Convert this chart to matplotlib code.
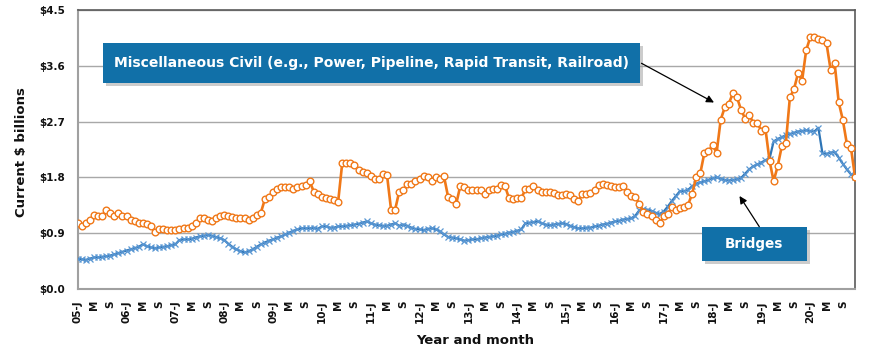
import matplotlib
matplotlib.use("Agg")
import matplotlib.pyplot as plt
from matplotlib.patches import Rectangle

# ---------------- data ----------------
years = list(range(2005, 2021))
tick_labels = []
for y in years:
    tick_labels += [f"{y % 100:02d}-J", "M", "S"]

misc_civil = [
    1.07, 1.02, 1.06, 1.11, 1.19, 1.17, 1.18, 1.27, 1.22, 1.18, 1.22, 1.17,
    1.18, 1.11, 1.09, 1.06, 1.06, 1.05, 1.01, 0.92, 0.97, 0.97, 0.95, 0.95,
    0.95, 0.97, 0.99, 0.99, 1.02, 1.06, 1.14, 1.14, 1.11,
    1.09, 1.14, 1.17, 1.19, 1.17, 1.16, 1.15, 1.14, 1.14, 1.11, 1.14, 1.19,
    1.23, 1.45, 1.49, 1.57, 1.61, 1.64, 1.65, 1.64, 1.61, 1.64, 1.66, 1.68,
    1.74, 1.57, 1.54, 1.49, 1.46, 1.45, 1.44, 1.41,
    2.03, 2.03, 2.04, 2.00, 1.92, 1.88, 1.87, 1.82, 1.78, 1.78, 1.85, 1.84,
    1.28, 1.28, 1.57, 1.60, 1.69, 1.69, 1.75, 1.78, 1.82, 1.81, 1.75, 1.80,
    1.78, 1.82, 1.49, 1.45, 1.37, 1.66, 1.64, 1.59,
    1.59, 1.60, 1.59, 1.54, 1.60, 1.61, 1.62, 1.68, 1.66, 1.46, 1.45, 1.46,
    1.46, 1.61, 1.62, 1.66, 1.59, 1.57, 1.57, 1.57, 1.55, 1.52, 1.52, 1.54,
    1.52, 1.45, 1.42, 1.53, 1.54, 1.55, 1.60, 1.68,
    1.69, 1.68, 1.66, 1.65, 1.65, 1.66, 1.57, 1.50, 1.49, 1.37, 1.25, 1.21,
    1.18, 1.11, 1.06, 1.17, 1.21, 1.32, 1.28, 1.30, 1.33, 1.36,
    1.54, 1.81, 1.87, 2.20, 2.22, 2.32, 2.20, 2.73, 2.93, 2.99, 3.16, 3.09,
    2.89, 2.75, 2.81, 2.68, 2.68, 2.55, 2.58, 2.07, 1.74, 1.98, 2.30, 2.35,
    3.09, 3.22, 3.48, 3.36, 3.85, 4.06, 4.06, 4.04, 4.01, 3.96, 3.54, 3.64,
    3.01, 2.73, 2.34, 2.28, 1.81,
]

bridges = [
    0.49, 0.48, 0.47, 0.49, 0.51, 0.51, 0.52, 0.53, 0.54, 0.56, 0.58, 0.60,
    0.62, 0.64, 0.66, 0.68, 0.72, 0.69, 0.67, 0.66, 0.67, 0.68, 0.69, 0.71,
    0.72, 0.79, 0.80, 0.80, 0.81, 0.83, 0.85, 0.86, 0.87, 0.86, 0.84, 0.82,
    0.79, 0.73, 0.68, 0.64, 0.61, 0.59, 0.61, 0.64, 0.68, 0.72, 0.75, 0.78,
    0.80, 0.83, 0.85, 0.88, 0.91, 0.94, 0.96, 0.98, 0.98, 0.98, 0.99, 0.97,
    1.01, 1.01, 0.99, 0.99, 1.01, 1.01, 1.02, 1.03, 1.04, 1.05, 1.07, 1.09,
    1.06, 1.04, 1.03, 1.02, 1.02, 1.04, 1.06, 1.02, 1.04, 1.02, 0.99, 0.97,
    0.96, 0.95, 0.97, 0.98, 0.96, 0.93, 0.88, 0.84, 0.83, 0.82, 0.80, 0.78,
    0.79, 0.80, 0.80, 0.82, 0.83, 0.84, 0.85, 0.86, 0.88, 0.89, 0.91, 0.92,
    0.94, 0.96, 1.06, 1.07, 1.08, 1.09, 1.06, 1.04, 1.03, 1.04, 1.05, 1.06,
    1.05, 1.02, 1.00, 0.98, 0.98, 0.99, 0.99, 1.01, 1.02, 1.04, 1.05, 1.07,
    1.09, 1.10, 1.12, 1.13, 1.14, 1.18, 1.27, 1.29, 1.28, 1.26, 1.23, 1.21,
    1.25, 1.33, 1.42, 1.50, 1.58, 1.58, 1.60, 1.66, 1.70, 1.72, 1.74, 1.76,
    1.79, 1.80, 1.78, 1.76, 1.75, 1.76, 1.77, 1.79, 1.86, 1.93, 1.98, 2.01,
    2.04, 2.08, 2.10, 2.38, 2.42, 2.45, 2.48, 2.50, 2.52, 2.54, 2.55, 2.56,
    2.55, 2.54, 2.60, 2.19, 2.18, 2.20, 2.21, 2.12, 2.02, 1.93, 1.85, 1.81,
]

y_ticks = [0.0, 0.9, 1.8, 2.7, 3.6, 4.5]
y_tick_labels = ["$0.0", "$0.9", "$1.8", "$2.7", "$3.6", "$4.5"]

misc_label = "Miscellaneous Civil (e.g., Power, Pipeline, Rapid Transit, Railroad)"
bridges_label = "Bridges"

# ---------------- figure ----------------
W, H = 870, 358
fig = plt.figure(figsize=(W / 100, H / 100), dpi=100)
plt.rcParams['font.family'] = ['DejaVu Sans']

def fx(px):
    return px / W

def fy(py):
    return 1 - py / H

left, right, top, bottom = 77.7, 855, 10, 289
ax = fig.add_axes([fx(left), fy(bottom), fx(right) - fx(left), fy(top) - fy(bottom)])

x = list(range(len(misc_civil)))
ax.plot(x, bridges, color='#2e75b6', lw=1.6, marker='x', ms=4.2, mew=0.9,
        mec='#5a97d3', zorder=3)
ax.plot(x, misc_civil, color='#f07818', lw=1.9, marker='o', ms=4.8, mew=1.0,
        mfc='white', mec='#f07818', zorder=4)

ax.set_xlim(0, len(misc_civil) - 1)
ax.set_ylim(0, 4.5)
ax.set_yticks(y_ticks)
ax.set_yticklabels(y_tick_labels)
ax.set_xticks(list(range(0, len(tick_labels) * 4, 4)))
ax.set_xticklabels(tick_labels, rotation=90)
ax.tick_params(axis='both', length=0, labelsize=7.5, colors='#111111')
ax.tick_params(axis='y', pad=9)
ax.tick_params(axis='x', pad=8)
for lab in ax.get_xticklabels() + ax.get_yticklabels():
    lab.set_fontweight('bold')

ax.grid(axis='y', color='#a8a8a8', lw=1.0)
ax.set_axisbelow(True)
for s in ['left', 'bottom']:
    ax.spines[s].set_color('#a0a0a0')
    ax.spines[s].set_linewidth(1.5)
for s in ['top', 'right']:
    ax.spines[s].set_color('#5a5a5a')
    ax.spines[s].set_linewidth(1.2)

fig.text(fx(22), fy(152), "Current $ billions", rotation=90, ha='center',
         va='center', fontsize=9.5, fontweight='bold', color='#111111')
fig.text(fx(475), fy(340), "Year and month", ha='center', va='center',
         fontsize=9.5, fontweight='bold', color='#111111')

box_color = '#1170a8'

def label_box(x0, y0, x1, y1, text, target_w):
    shadow = Rectangle((fx(x0 + 3), fy(y1 + 3)), fx(x1) - fx(x0), fy(y0) - fy(y1),
                       transform=fig.transFigure, facecolor='#9a9a9a', alpha=0.5,
                       edgecolor='none', zorder=5)
    fig.add_artist(shadow)
    rect = Rectangle((fx(x0), fy(y1)), fx(x1) - fx(x0), fy(y0) - fy(y1),
                     transform=fig.transFigure, facecolor=box_color,
                     edgecolor='none', zorder=6)
    fig.add_artist(rect)
    t = fig.text(fx((x0 + x1) / 2), fy((y0 + y1) / 2), text, ha='center',
                 va='center', color='white', fontweight='bold', fontsize=10,
                 zorder=7)
    fig.canvas.draw()
    w = t.get_window_extent().width
    t.set_fontsize(10 * target_w / w)
    return t

label_box(103, 43, 640, 83, misc_label, 514)
label_box(701.7, 226.7, 806.7, 260.7, bridges_label, 58)

arrow_kw = dict(arrowstyle='-|>', color='black', lw=0.9, mutation_scale=11,
                shrinkA=0, shrinkB=0)
fig.add_artist(matplotlib.patches.FancyArrowPatch(
    (fx(641.5), fy(63.3)), (fx(714), fy(102.5)), transform=fig.transFigure,
    zorder=8, **arrow_kw))
fig.add_artist(matplotlib.patches.FancyArrowPatch(
    (fx(759.3), fy(226.7)), (fx(739.5), fy(196)), transform=fig.transFigure,
    zorder=8, **arrow_kw))

fig.savefig("out.png", dpi=100)
